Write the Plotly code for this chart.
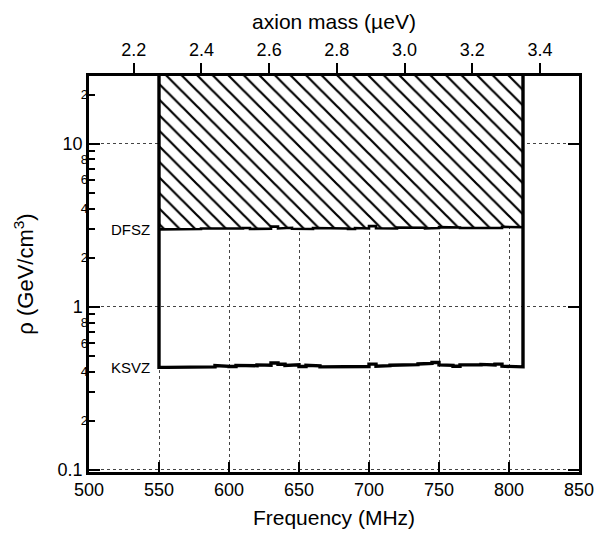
import numpy as np
import plotly.graph_objects as go

# ---- data ----
freq_edges = list(range(550, 811, 5))  # MHz bin edges, 550..810
dfsz = [2.98, 2.99, 3.00, 2.98, 3.01, 3.00, 3.02, 2.99, 3.01, 3.00,
        2.99, 3.02, 3.04, 3.00, 3.03, 3.01, 3.10, 3.02, 3.05, 3.01,
        3.03, 3.00, 3.04, 3.02, 3.03, 3.01, 3.02, 3.00, 3.04, 3.02,
        3.12, 3.03, 3.05, 3.02, 3.06, 3.04, 3.03, 3.05, 3.02, 3.04,
        3.08, 3.05, 3.06, 3.04, 3.07, 3.05, 3.06, 3.05, 3.04, 3.09,
        3.06, 3.07]
ksvz = [0.425, 0.425, 0.427, 0.426, 0.425, 0.428, 0.430, 0.428, 0.436, 0.431,
        0.430, 0.437, 0.432, 0.435, 0.440, 0.438, 0.452, 0.444, 0.436, 0.441,
        0.430, 0.438, 0.434, 0.428, 0.431, 0.429, 0.430, 0.428, 0.432, 0.430,
        0.445, 0.432, 0.435, 0.438, 0.440, 0.437, 0.442, 0.446, 0.449, 0.455,
        0.440, 0.437, 0.432, 0.440, 0.436, 0.441, 0.443, 0.439, 0.445, 0.432,
        0.428, 0.428]
freq_ticks = [500, 550, 600, 650, 700, 750, 800, 850]
mass_ticks = [2.2, 2.4, 2.6, 2.8, 3.0, 3.2, 3.4]
rho_major = [0.1, 1, 10]
rho_major_text = ["0.1", "1", "10"]
rho_minor = [0.2, 0.3, 0.4, 0.5, 0.6, 0.7, 0.8, 0.9,
             2, 3, 4, 5, 6, 7, 8, 9, 20]
rho_minor_text = ["2", "", "4", "", "6", "", "8", "",
                  "2", "", "4", "", "6", "", "8", "", "2"]
labels = ["DFSZ", "KSVZ"]

F_RANGE = [500, 850]
Y_MIN, Y_MAX = 0.097, 26.0
K = 4.1357e-3  # ueV per MHz
TOP = 40.0


def steps(edges, vals):
    xs, ys = [], []
    for i, v in enumerate(vals):
        xs += [edges[i], edges[i + 1]]
        ys += [v, v]
    return xs, ys


dx, dy = steps(freq_edges, dfsz)
kx, ky = steps(freq_edges, ksvz)

FONT = "Liberation Sans, Arial, Helvetica, sans-serif"

fig = go.Figure()

# hatched excluded region above DFSZ
fig.add_trace(go.Scatter(
    x=dx + [freq_edges[-1], freq_edges[0]],
    y=dy + [TOP, TOP],
    mode="lines", fill="toself",
    fillcolor="white",
    fillpattern=dict(shape="\\", fgcolor="black", bgcolor="white",
                     fgopacity=1, fillmode="replace",
                     size=11, solidity=0.2),
    line=dict(width=0), showlegend=False, hoverinfo="skip"))

# DFSZ line
fig.add_trace(go.Scatter(x=dx, y=dy, mode="lines",
                         line=dict(color="black", width=2.6),
                         showlegend=False))

# KSVZ outline with vertical edges
fig.add_trace(go.Scatter(
    x=[freq_edges[0]] + kx + [freq_edges[-1]],
    y=[TOP] + ky + [TOP],
    mode="lines", line=dict(color="black", width=3.4),
    showlegend=False))

# dummy trace for overlay axes
fig.add_trace(go.Scatter(x=[None], y=[None], xaxis="x2", yaxis="y3",
                         showlegend=False))

fig.add_annotation(x=545, y=np.log10(dfsz[0]), text=labels[0],
                   showarrow=False, xanchor="right", yanchor="middle",
                   font=dict(size=15, color="black", family=FONT))
fig.add_annotation(x=545, y=np.log10(ksvz[0]), text=labels[1],
                   showarrow=False, xanchor="right", yanchor="middle",
                   font=dict(size=15, color="black", family=FONT))

fig.update_layout(
    width=605, height=539,
    margin=dict(l=89, r=26, t=76, b=67),
    paper_bgcolor="white", plot_bgcolor="white",
    font=dict(family=FONT, color="black"),
    xaxis=dict(
        range=F_RANGE, tickmode="array", tickvals=freq_ticks,
        ticks="inside", ticklen=10, tickwidth=2, tickcolor="black",
        showline=True, linewidth=2.5, linecolor="black", mirror=True,
        showgrid=True, gridcolor="#444", griddash="dot", gridwidth=1,
        zeroline=False, tickfont=dict(size=18),
        title=dict(text="Frequency (MHz)", font=dict(size=21), standoff=11),
    ),
    xaxis2=dict(
        range=[F_RANGE[0] * K, F_RANGE[1] * K], overlaying="x", side="top",
        anchor="y", tickmode="array", tickvals=mass_ticks,
        ticktext=["%.1f" % m for m in mass_ticks],
        ticks="outside", ticklen=12, tickwidth=2, tickcolor="black",
        showline=False, showgrid=False, zeroline=False,
        tickfont=dict(size=18),
        title=dict(text="axion mass (µeV)", font=dict(size=21), standoff=4),
    ),
    yaxis=dict(
        type="log", range=[np.log10(Y_MIN), np.log10(Y_MAX)],
        tickmode="array", tickvals=rho_major, ticktext=rho_major_text,
        ticks="inside", ticklen=11, tickwidth=2, tickcolor="black",
        showline=True, linewidth=2.5, linecolor="black", mirror="ticks",
        showgrid=True, gridcolor="#444", griddash="dot", gridwidth=1,
        zeroline=False, tickfont=dict(size=18),
        title=dict(text="ρ (GeV/cm<sup>3</sup>)", font=dict(size=22),
                   standoff=18),
    ),
    yaxis3=dict(
        type="log", range=[np.log10(Y_MIN), np.log10(Y_MAX)],
        overlaying="y", side="left", anchor="x",
        tickmode="array", tickvals=rho_minor, ticktext=rho_minor_text,
        ticks="inside", ticklen=6, tickwidth=1.5, tickcolor="black",
        showline=False, showgrid=False, zeroline=False,
        tickfont=dict(size=13),
    ),
)

fig.write_html("out.html")
